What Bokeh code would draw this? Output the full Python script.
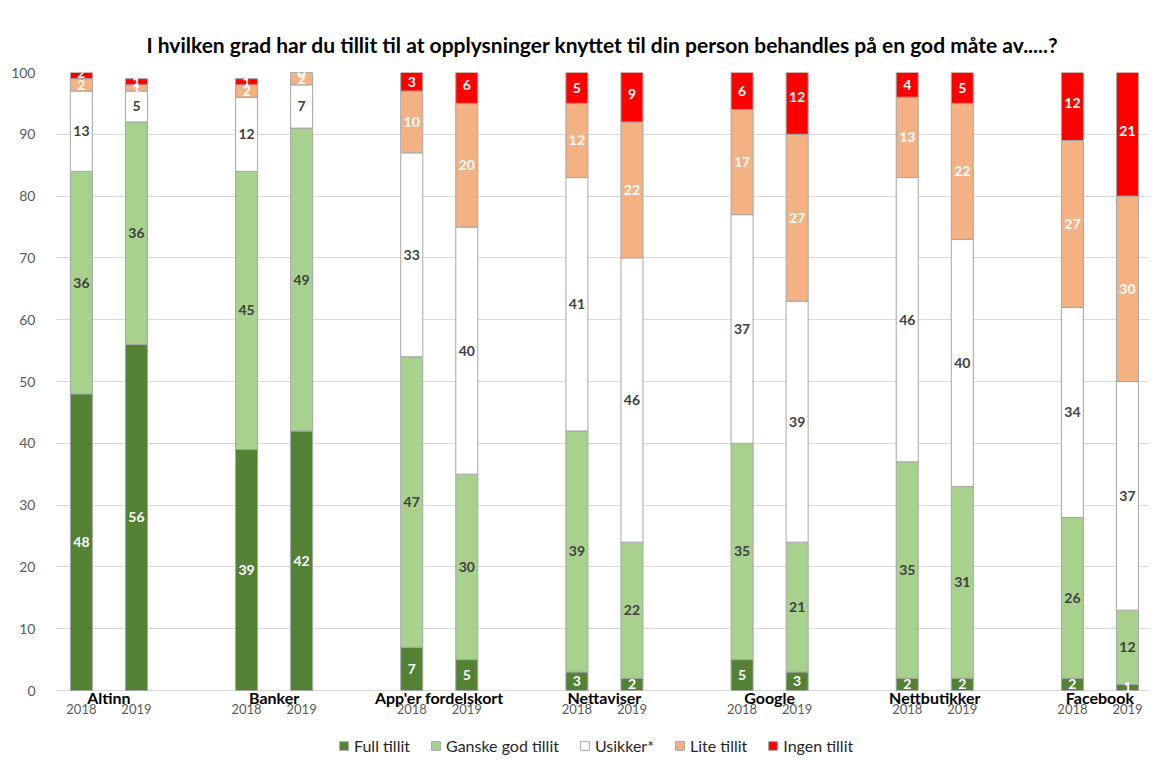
import numpy as np
from bokeh.plotting import figure
from bokeh.models import (ColumnDataSource, Range1d, FixedTicker, Legend, LegendItem)
from bokeh.core.properties import value
from bokeh.embed import file_html
from bokeh.resources import INLINE

groups = ["Altinn", "Banker", "App'er fordelskort", "Nettaviser", "Google", "Nettbutikker", "Facebook"]
years = ["2018", "2019"]
series = ["Full tillit", "Ganske god tillit", "Usikker*", "Lite tillit", "Ingen tillit"]
colors = ["#548235", "#A9D18E", "#FFFFFF", "#F4B183", "#FF0000"]
label_colors = ["white", "#404040", "#404040", "white", "white"]

# values per bar, order: Altinn 2018, Altinn 2019, Banker 2018, ...
full_tillit = [48, 56, 39, 42, 7, 5, 3, 2, 5, 3, 2, 2, 2, 1]
ganske_god = [36, 36, 45, 49, 47, 30, 39, 22, 35, 21, 35, 31, 26, 12]
usikker = [13, 5, 12, 7, 33, 40, 41, 46, 37, 39, 46, 40, 34, 37]
lite_tillit = [2, 1, 2, 2, 10, 20, 12, 22, 17, 27, 13, 22, 27, 30]
ingen_tillit = [2, 1, 1, 0, 3, 6, 5, 9, 6, 12, 4, 5, 12, 21]

all_vals = [full_tillit, ganske_god, usikker, lite_tillit, ingen_tillit]

# slot positions: 3 slots per group (2 bars + gap)
xs = []
year_labels = []
for gi, g in enumerate(groups):
    for yi, yr in enumerate(years):
        xs.append(3 * gi + yi)
        year_labels.append(yr)
group_x = [3 * gi + 0.5 for gi in range(len(groups))]

FONT = "Lato"
PX_PER_UNIT = 6.18          # 618 px for 0..100
Y_MIN = -70 / PX_PER_UNIT   # room under the axis for category labels + legend

p = figure(frame_width=1094, frame_height=688, output_backend="svg", toolbar_location=None,
           x_range=Range1d(-0.47, 19.4), y_range=Range1d(Y_MIN, 100),
           x_axis_location=None,
           min_border_left=55, min_border_right=4, min_border_top=72, min_border_bottom=0)

p.title.text = "I hvilken grad har du tillit til at opplysninger knyttet til din person behandles på en god måte av.....?"
p.title.align = "center"
p.title.offset = -16
p.title.text_font = FONT
p.title.text_font_size = "21px"
p.title.text_font_style = "bold"
p.title.text_color = "#000000"
p.title.standoff = 31

src = ColumnDataSource(dict(x=xs, **{s: v for s, v in zip(series, all_vals)}))
renderers = p.vbar_stack(series, x="x", width=0.4, color=colors, source=src,
                         line_color="#A6A6A6", line_width=1)

# value labels
bottoms = np.zeros(len(xs))
for si, vals in enumerate(all_vals):
    v = np.array(vals, dtype=float)
    mids = bottoms + v / 2
    bottoms = bottoms + v
    lsrc = ColumnDataSource(dict(x=xs, y=list(mids), t=[str(int(a)) for a in vals]))
    p.text(x="x", y="y", text="t", source=lsrc, text_align="center", text_baseline="middle",
           text_font=value(FONT), text_font_size="14px", text_font_style="bold",
           text_color=label_colors[si])

# category labels under the axis
ysrc = ColumnDataSource(dict(x=xs, y=[-18 / PX_PER_UNIT] * len(xs), t=year_labels))
p.text(x="x", y="y", text="t", source=ysrc, text_align="center", text_baseline="middle",
       text_font=value(FONT), text_font_size="13px", text_color="#595959")
gsrc = ColumnDataSource(dict(x=group_x, y=[-7 / PX_PER_UNIT] * len(groups), t=groups))
p.text(x="x", y="y", text="t", source=gsrc, text_align="center", text_baseline="middle",
       text_font=value(FONT), text_font_size="16px", text_font_style="bold",
       text_color="#000000")

# y axis
p.yaxis.ticker = FixedTicker(ticks=list(range(0, 101, 10)))
p.yaxis.axis_line_color = None
p.yaxis.major_tick_line_color = None
p.yaxis.minor_tick_line_color = None
p.yaxis.major_label_text_font = FONT
p.yaxis.major_label_text_font_size = "14px"
p.yaxis.major_label_text_color = "#595959"
p.yaxis.major_label_standoff = 14

p.ygrid.ticker = FixedTicker(ticks=list(range(0, 101, 10)))
p.ygrid.grid_line_color = "#D9D9D9"
p.xgrid.grid_line_color = None
p.outline_line_color = None

legend = Legend(items=[LegendItem(label=s, renderers=[r]) for s, r in zip(series, renderers)],
                orientation="horizontal", location=(283, 5))
legend.label_text_font = FONT
legend.label_text_font_size = "16px"
legend.label_text_color = "#262626"
legend.glyph_width = 11
legend.glyph_height = 11
legend.label_height = 18
legend.spacing = 20
legend.label_standoff = 5
legend.border_line_color = None
legend.background_fill_alpha = 0
legend.padding = 0
legend.margin = 0
p.add_layout(legend, "center")

open("out.html", "w").write(file_html(p, INLINE))
